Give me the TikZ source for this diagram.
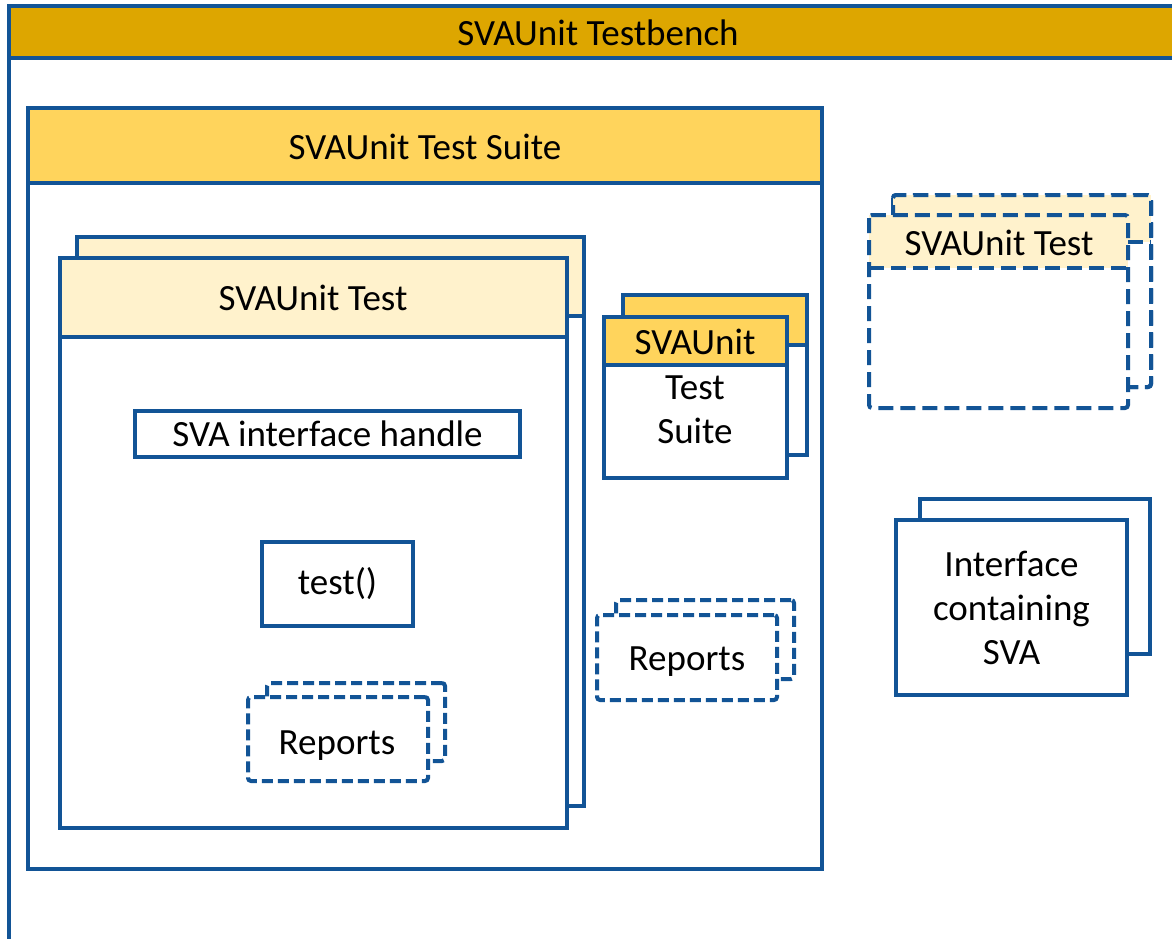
\documentclass[tikz,border=0pt]{standalone}
\usepackage{fontspec}
\setmainfont{Carlito}
\usetikzlibrary{positioning}
\definecolor{svablue}{RGB}{18,84,150}
\definecolor{tbgold}{RGB}{221,166,0}
\definecolor{suiteyel}{RGB}{255,212,92}
\definecolor{testyel}{RGB}{255,242,204}
\tikzset{frame/.style={draw=svablue,line width=2pt},
dframe/.style={frame,dash pattern=on 7.5pt off 3.5pt},
lbl/.style={font=\fontsize{18.5}{22}\selectfont,text=black,inner sep=0pt,align=center},
box/.style={frame,fill=white,lbl},
dbox/.style={box,dash pattern=on 5.5pt off 2.5pt,rounded corners=1.5pt}}

\begin{document}
\begin{tikzpicture}[x=0.5pt,y=-0.5pt]
	\clip (0,0) rectangle (1172,938);
	% testbench
	\draw[frame,fill=white] (9,6) rectangle (1200,960);
	\draw[frame,fill=tbgold] (9,6) rectangle (1200,58);
	\node[lbl] (tb) at (598,33) {SVAUnit Testbench};
	% test suite
	\draw[frame] (28,108) rectangle (822,869);
	\draw[frame,fill=suiteyel] (28,108) rectangle (822,183);
	\node[lbl] (suitehd) at (425,147) {SVAUnit Test Suite};
	% test, two stacked
	\draw[frame,fill=white] (77,237) rectangle (584,806);
	\draw[frame,fill=testyel] (77,237) rectangle (584,316);
	\draw[frame,fill=white] (60,258) rectangle (567,828);
	\draw[frame,fill=testyel] (60,258) rectangle (567,337);
	\node[lbl] (testhd) at (313,298) {SVAUnit Test};
	\node[box,minimum width=192.5pt,minimum height=23pt] (handle) at (327.5,434) {SVA interface handle};
	\node[box,minimum width=75.5pt,minimum height=42pt] (testfn) at (337.5,584) {test()};
	\node[dbox,minimum width=89pt,minimum height=39pt] (repAb) at (356,722) {};
	\node[dbox,minimum width=90pt,minimum height=42pt] (repA) at (338,739) {};
	\node[lbl] (repAtx) at (337,746) {Reports};
	% nested suites
	\draw[frame,fill=white] (623,295) rectangle (807,455);
	\draw[frame,fill=suiteyel] (623,295) rectangle (807,345);
	\draw[frame,fill=white] (604,317) rectangle (787,478);
	\draw[frame,fill=suiteyel] (604,317) rectangle (787,365);
	\node[lbl] (subhd) at (695,342) {SVAUnit};
	\node[lbl] (subtx) at (695,410) {Test\\Suite};
	\node[dbox,minimum width=89pt,minimum height=39.5pt] (repBb) at (705,639.5) {};
	\node[dbox,minimum width=90pt,minimum height=42.5pt] (repB) at (687,657.5) {};
	\node[lbl] (repBtx) at (687,662) {Reports};
	% more tests
	\draw[dframe,fill=white,rounded corners=1.5pt] (893,195) rectangle (1151,387);
	\fill[testyel] (893,195) rectangle (1151,242);
	\draw[dframe,rounded corners=1.5pt] (893,242) -- (893,195) -- (1151,195) -- (1151,387) -- (1128,387);
	\draw[dframe] (1128,242) -- (1151,242);
	\fill[white] (869,215) rectangle (1128,408);
	\fill[testyel] (869,215) rectangle (1128,268);
	\draw[dframe,rounded corners=1.5pt] (869,215) rectangle (1128,408);
	\draw[dframe] (869,268) -- (1128,268);
	\node[lbl] (moretest) at (999,243) {SVAUnit Test};
	% interfaces
	\node[box,minimum width=115pt,minimum height=77.5pt] (ifb) at (1035,576.5) {};
	\node[box,minimum width=115.5pt,minimum height=87.5pt] (ifc) at (1011.5,607.5) {Interface\\containing\\SVA};
\end{tikzpicture}
\end{document}
